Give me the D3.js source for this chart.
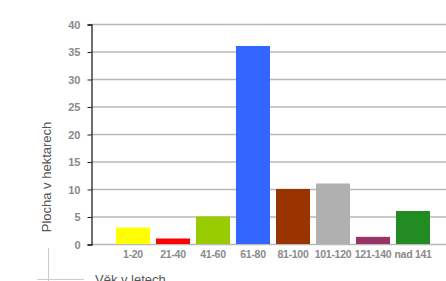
<!DOCTYPE html>
<html>
<head>
<meta charset="utf-8">
<script src="https://cdn.jsdelivr.net/npm/d3@7"></script>
<style>
  html, body { margin: 0; padding: 0; background: #fff; }
  svg { display: block; font-family: Arial, "Liberation Sans", sans-serif; }
  .tick text { fill: #8a8a8a; font-weight: bold; font-size: 11px; }
  .xlab .tick text { font-size: 10.5px; letter-spacing: -0.3px; }
</style>
</head>
<body>
<div id="chart"></div>
<script>
  var categories = ['1-20', '21-40', '41-60', '61-80', '81-100', '101-120', '121-140', 'nad 141'];
  var values = [3, 1, 5, 36, 10, 11, 1.3, 6];
  var colors = ['#ffff00', '#ff0000', '#99cc00', '#3366ff', '#993300', '#b0b0b0', '#993366', '#228b22'];
  var yTicks = [0, 5, 10, 15, 20, 25, 30, 35, 40];

  var width = 446, height = 281;

  var svg = d3.select('#chart')
    .append('svg')
    .attr('width', width)
    .attr('height', height);

  var x = d3.scaleBand()
    .domain(categories)
    .range([113, 433])
    .paddingInner(0.15)
    .paddingOuter(0.075);

  var y = d3.scaleLinear()
    .domain([0, 40])
    .range([244, 24]);

  // grid lines
  svg.append('g')
    .selectAll('line')
    .data(yTicks)
    .enter().append('line')
    .attr('x1', 91)
    .attr('x2', width)
    .attr('y1', function (d) { return y(d) + 0.5; })
    .attr('y2', function (d) { return y(d) + 0.5; })
    .attr('stroke', '#b8b8b8')
    .attr('stroke-width', 1.4);

  // bars
  svg.append('g')
    .selectAll('rect')
    .data(values)
    .enter().append('rect')
    .attr('x', function (d, i) { return x(categories[i]); })
    .attr('y', function (d) { return y(d); })
    .attr('width', x.bandwidth())
    .attr('height', function (d) { return y(0) - y(d); })
    .attr('fill', function (d, i) { return colors[i]; });

  // y axis
  var yAxis = svg.append('g')
    .attr('transform', 'translate(91.5,0.5)')
    .call(d3.axisLeft(y).tickValues(yTicks).tickSize(4).tickPadding(7));
  yAxis.select('.domain').attr('stroke', '#222').attr('stroke-width', 1.3);
  yAxis.selectAll('.tick line').attr('stroke', '#222');

  // x labels
  var xAxis = svg.append('g')
    .attr('class', 'xlab')
    .attr('transform', 'translate(0,' + y(0) + ')')
    .call(d3.axisBottom(x).tickSize(0).tickPadding(7));
  xAxis.select('.domain').remove();

  // axis titles
  svg.append('text')
    .attr('transform', 'translate(51,177) rotate(-90)')
    .attr('text-anchor', 'middle')
    .attr('font-size', 13)
    .attr('fill', '#555')
    .text('Plocha v hektarech');

  svg.append('text')
    .attr('x', 95)
    .attr('y', 284)
    .attr('font-size', 13)
    .attr('fill', '#555')
    .text('Věk v letech');

  // legend table remnants
  svg.append('line')
    .attr('x1', 48.5).attr('x2', 48.5)
    .attr('y1', 248).attr('y2', 281)
    .attr('stroke', '#ccc');
  svg.append('line')
    .attr('x1', 37).attr('x2', 84)
    .attr('y1', 279.5).attr('y2', 279.5)
    .attr('stroke', '#ccc');
</script>
</body>
</html>
